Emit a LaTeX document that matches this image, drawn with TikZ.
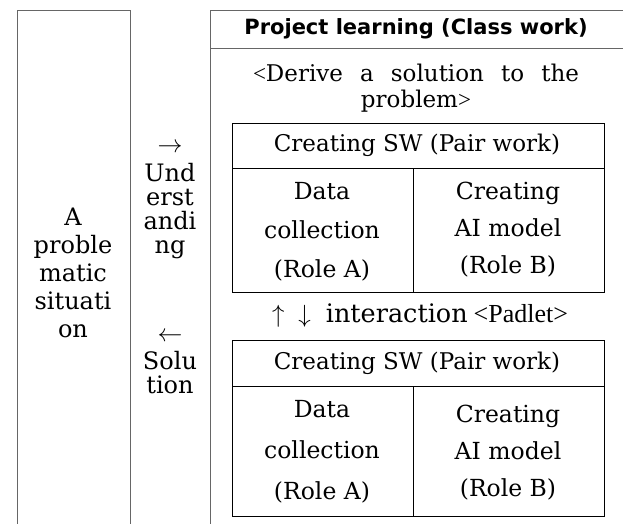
\documentclass[tikz,border=0pt]{standalone}
\usepackage{fontspec}
\setmainfont{DejaVu Serif}
\newfontfamily\hdfont{DejaVu Sans}
\newfontfamily\tmfont{Liberation Serif}
\begin{document}
\begin{tikzpicture}[x=1pt,y=-1pt,
  outer/.style={draw=black!60, line width=0.8pt},
  inner/.style={draw=black, line width=0.9pt},
  txt/.style={inner sep=0pt, align=center, font=\fontsize{23}{28}\selectfont}]
\useasboundingbox (0,0) rectangle (623,524);
% outer frames
\draw[outer] (17,524) -- (17,10) -- (130,10) -- (130,524);
\draw[outer] (210,524) -- (210,10) -- (623,10);
\draw[outer] (210,48) -- (623,48);
% inner box 1
\draw[inner] (232,123) rectangle (604,292);
\draw[inner] (232,168) -- (604,168);
\draw[inner] (413,168) -- (413,292);
% inner box 2
\draw[inner] (232,340) rectangle (604,516);
\draw[inner] (232,386) -- (604,386);
\draw[inner] (413,386) -- (413,516);
% left column
\node[txt, font=\fontsize{24}{28}\selectfont] (prob) at (73,273) {A\\proble\\matic\\situati\\on};
% middle column
\node[txt, font=\fontsize{24}{24}\selectfont] (und) at (170,201) {$\rightarrow$\\[5pt]Und\\erst\\andi\\ng};
\node[txt, font=\fontsize{24}{24}\selectfont] (sol) at (170,363) {$\leftarrow$\\[4pt]Solu\\tion};
% right column
\node[inner sep=0pt, font=\hdfont\bfseries\fontsize{21}{24}\selectfont] (hd) at (416,29) {Project learning (Class work)};
\node[txt, font=\fontsize{23}{26}\selectfont] (der) at (416,88) {\makebox[326pt][s]{{\tmfont<}Derive a solution to the}\\problem{\tmfont>}};
\node[txt] (sw1) at (417,145) {Creating SW (Pair work)};
\node[txt, font=\fontsize{23.5}{39}\selectfont] (da1) at (322,232) {Data\\collection\\(Role A)};
\node[txt, font=\fontsize{23.5}{37}\selectfont] (ai1) at (508,230) {Creating\\AI model\\(Role B)};
\node[txt, font=\fontsize{25.5}{28}\selectfont] (int) at (420,316) {$\uparrow$\hspace{14pt}$\downarrow$\hspace{15pt}interaction\hspace{6pt}{\tmfont\fontsize{26}{28}\selectfont<Padlet>}};
\node[txt] (sw2) at (417,363) {Creating SW (Pair work)};
\node[txt, font=\fontsize{23.5}{41}\selectfont] (da2) at (322,452) {Data\\collection\\(Role A)};
\node[txt, font=\fontsize{23.5}{37}\selectfont] (ai2) at (508,453) {Creating\\AI model\\(Role B)};
\end{tikzpicture}
\end{document}
